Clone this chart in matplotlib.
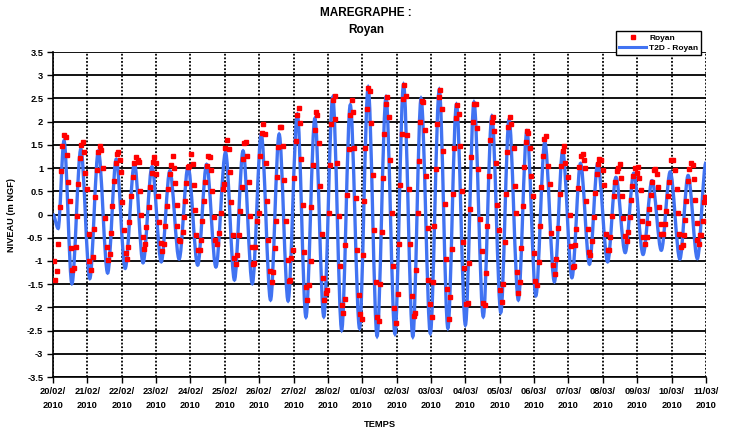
import numpy as np
import matplotlib.pyplot as plt
from matplotlib.path import Path
from matplotlib.patches import PathPatch
from matplotlib.lines import Line2D

plt.rcParams['font.family'] = ['Liberation Sans', 'DejaVu Sans']
plt.rcParams['font.weight'] = 'bold'

BLUE = '#4173F2'

# dates (days since 20/02/2010 00:00)
DATES = ['20/02/', '21/02/', '22/02/', '23/02/', '24/02/', '25/02/', '26/02/',
         '27/02/', '28/02/', '01/03/', '02/03/', '03/03/', '04/03/', '05/03/',
         '06/03/', '07/03/', '08/03/', '09/03/', '10/03/', '11/03/']

# T2D model: turning points (high / low waters)
model_day = [0.00, 0.15, 0.32, 0.55, 0.81, 1.07, 1.32, 1.59, 1.84, 2.10, 2.37, 2.62,
             2.88, 3.15, 3.40, 3.67, 3.93, 4.21, 4.47, 4.74, 5.02, 5.28, 5.53, 5.80,
             6.06, 6.33, 6.58, 6.84, 7.11, 7.36, 7.62, 7.88, 8.14, 8.40, 8.65, 8.92,
             9.17, 9.43, 9.69, 9.95, 10.20, 10.47, 10.71, 10.98, 11.24, 11.49, 11.74,
             12.00, 12.25, 12.52, 12.77, 13.03, 13.27, 13.54, 13.79, 14.05, 14.31,
             14.59, 14.83, 15.10, 15.35, 15.61, 15.85, 16.14, 16.38, 16.65, 16.90,
             17.17, 17.43, 17.70, 17.96, 18.24, 18.48, 18.75, 19.00]
model_level = [0.00, -0.30, 1.59, -1.49, 1.41, -1.38, 1.37, -1.26, 1.19, -1.16, 1.10, -1.04,
               1.03, -1.02, 0.94, -0.96, 1.03, -1.09, 1.08, -1.13, 1.34, -1.41, 1.37, -1.49,
               1.73, -1.84, 1.73, -1.86, 2.16, -2.21, 2.07, -2.20, 2.53, -2.49, 2.36, -2.45,
               2.74, -2.62, 2.53, -2.57, 2.80, -2.63, 2.50, -2.56, 2.69, -2.45, 2.37,
               -2.38, 2.42, -2.20, 2.12, -2.11, 2.05, -1.84, 1.80, -1.75, 1.56,
               -1.45, 1.37, -1.36, 1.10, -1.07, 1.10, -1.02, 0.80, -0.82, 0.89,
               -0.86, 0.73, -0.77, 0.92, -0.96, 0.84, -0.95, 1.12]

# tide gauge observations (Royan)
obs_day = [
    0.02, 0.07, 0.12, 0.15, 0.19, 0.22, 0.27, 0.31, 0.37, 0.41, 0.45, 0.50, 0.51, 0.55, 0.61, 0.66,
    0.70, 0.74, 0.78, 0.82, 0.87, 0.91, 0.94, 0.99, 1.04, 1.06, 1.11, 1.15, 1.19, 1.23, 1.28, 1.32,
    1.36, 1.40, 1.46, 1.51, 1.56, 1.60, 1.65, 1.68, 1.73, 1.77, 1.83, 1.86, 1.90, 1.94, 1.98, 2.02,
    2.06, 2.11, 2.16, 2.19, 2.21, 2.28, 2.33, 2.36, 2.41, 2.46, 2.50, 2.52, 2.57, 2.62, 2.64, 2.69,
    2.72, 2.79, 2.82, 2.87, 2.91, 2.95, 2.99, 3.01, 3.06, 3.09, 3.14, 3.17, 3.23, 3.27, 3.31, 3.35,
    3.40, 3.44, 3.48, 3.51, 3.56, 3.61, 3.62, 3.67, 3.71, 3.77, 3.82, 3.84, 3.88, 3.92, 3.96, 4.02,
    4.06, 4.10, 4.14, 4.17, 4.22, 4.27, 4.32, 4.34, 4.39, 4.43, 4.47, 4.52, 4.57, 4.60, 4.64, 4.68,
    4.71, 4.76, 4.83, 4.90, 4.94, 4.97, 5.01, 5.05, 5.11, 5.15, 5.19, 5.24, 5.26, 5.32, 5.36, 5.42,
    5.45, 5.49, 5.53, 5.57, 5.61, 5.65, 5.69, 5.73, 5.78, 5.83, 5.86, 5.89, 5.94, 5.99, 6.02, 6.07,
    6.11, 6.16, 6.20, 6.23, 6.26, 6.31, 6.36, 6.41, 6.45, 6.49, 6.52, 6.56, 6.60, 6.64, 6.69, 6.73,
    6.78, 6.83, 6.86, 6.89, 6.93, 6.97, 7.02, 7.06, 7.11, 7.16, 7.20, 7.22, 7.28, 7.30, 7.36, 7.40,
    7.44, 7.50, 7.52, 7.56, 7.61, 7.64, 7.69, 7.73, 7.77, 7.82, 7.85, 7.90, 7.94, 7.98, 8.02, 8.06,
    8.10, 8.16, 8.20, 8.22, 8.27, 8.31, 8.35, 8.40, 8.45, 8.49, 8.51, 8.56, 8.60, 8.64, 8.69, 8.73,
    8.77, 8.81, 8.85, 8.89, 8.93, 8.98, 9.03, 9.05, 9.09, 9.14, 9.18, 9.23, 9.26, 9.31, 9.35, 9.39,
    9.44, 9.49, 9.52, 9.56, 9.60, 9.64, 9.68, 9.73, 9.77, 9.82, 9.85, 9.88, 9.93, 9.98, 10.03, 10.08,
    10.11, 10.15, 10.18, 10.22, 10.26, 10.31, 10.36, 10.40, 10.44, 10.49, 10.52, 10.57, 10.61, 10.65,
    10.69, 10.74, 10.78, 10.82, 10.85, 10.90, 10.92, 10.97, 11.02, 11.06, 11.10, 11.15, 11.18, 11.22,
    11.26, 11.31, 11.36, 11.40, 11.44, 11.47, 11.51, 11.56, 11.60, 11.63, 11.68, 11.72, 11.76, 11.80,
    11.84, 11.89, 11.93, 11.97, 12.03, 12.07, 12.10, 12.13, 12.17, 12.21, 12.25, 12.30, 12.34, 12.38,
    12.43, 12.48, 12.51, 12.56, 12.60, 12.63, 12.68, 12.72, 12.76, 12.81, 12.84, 12.89, 12.92, 12.97,
    13.01, 13.06, 13.10, 13.14, 13.17, 13.21, 13.25, 13.30, 13.34, 13.40, 13.43, 13.47, 13.50, 13.54,
    13.58, 13.62, 13.67, 13.71, 13.75, 13.79, 13.83, 13.88, 13.92, 13.97, 13.99, 14.03, 14.08, 14.13,
    14.17, 14.21, 14.25, 14.29, 14.34, 14.40, 14.46, 14.50, 14.56, 14.61, 14.65, 14.69, 14.74, 14.79,
    14.83, 14.86, 14.90, 14.98, 15.03, 15.07, 15.12, 15.17, 15.19, 15.22, 15.27, 15.32, 15.37, 15.41,
    15.45, 15.49, 15.52, 15.56, 15.60, 15.63, 15.68, 15.73, 15.78, 15.82, 15.85, 15.90, 15.95, 15.99,
    16.03, 16.09, 16.14, 16.19, 16.21, 16.27, 16.32, 16.36, 16.41, 16.45, 16.49, 16.52, 16.56, 16.60,
    16.65, 16.69, 16.73, 16.78, 16.81, 16.84, 16.89, 16.93, 16.98, 17.02, 17.05, 17.10, 17.14, 17.17,
    17.22, 17.27, 17.31, 17.35, 17.40, 17.44, 17.49, 17.53, 17.57, 17.60, 17.64, 17.68, 17.69, 17.74,
    17.82, 17.85, 17.89, 17.93, 17.98, 18.03, 18.11, 18.16, 18.20, 18.22, 18.26, 18.32, 18.35, 18.40,
    18.43, 18.47, 18.51, 18.56, 18.61, 18.65, 18.69, 18.73, 18.75, 18.79, 18.83, 18.86, 18.90, 18.93,
    18.98]
obs_level = [
    -1.01, -1.40, -1.21, -0.63, 0.16, 0.94, 1.48, 1.71, 1.66, 1.29, 0.71, 0.30, -0.72, -1.20, -1.15, -0.70,
    -0.04, 0.66, 1.21, 1.50, 1.56, 1.34, 0.90, 0.54, -0.41, -1.01, -1.20, -0.91, -0.32, 0.37, 0.96, 1.35,
    1.47, 1.39, 1.01, -0.08, -0.70, -0.99, -0.84, -0.39, 0.19, 0.73, 1.10, 1.31, 1.35, 1.17, 0.92, 0.26,
    -0.34, -0.83, -0.95, -0.69, -0.16, 0.39, 0.81, 1.12, 1.23, 1.17, 1.14, 0.51, -0.02, -0.49, -0.74, -0.63,
    -0.27, 0.16, 0.59, 0.89, 1.14, 1.23, 1.12, 0.87, 0.40, -0.16, -0.61, -0.79, -0.64, -0.25, 0.18, 0.55,
    0.87, 1.07, 1.26, 1.00, 0.67, 0.21, -0.24, -0.54, -0.58, -0.38, -0.06, 0.30, 0.67, 1.03, 1.05, 1.30,
    1.09, 0.64, 0.09, -0.45, -0.77, -0.76, -0.54, -0.15, 0.30, 0.69, 1.05, 1.25, 1.23, 0.96, 0.50, -0.06,
    -0.54, -0.64, -0.40, 0.04, 0.54, 0.66, 1.44, 1.60, 1.41, 0.92, 0.26, -0.44, -0.94, -1.07, -0.88, -0.44,
    0.07, 0.59, 1.19, 1.54, 1.57, 1.26, 0.71, -0.03, -0.70, -1.06, -1.04, -0.70, -0.13, 0.03, 1.26, 1.76,
    1.96, 1.73, 1.12, 0.30, -0.54, -1.21, -1.45, -1.24, -0.72, -0.14, 0.80, 1.46, 1.89, 1.89, 1.48, 0.75,
    -0.15, -0.99, -1.44, -1.41, -0.93, -0.77, 0.78, 1.59, 2.14, 2.30, 1.98, 1.19, 0.20, -0.81, -1.57, -1.84,
    -1.52, -1.00, 0.16, 1.07, 1.81, 2.21, 2.14, 1.54, 0.62, -0.41, -1.36, -1.84, -1.70, -1.63, 0.03, 1.07,
    1.96, 2.46, 2.55, 2.05, 1.10, -0.04, -1.11, -1.94, -2.13, -1.82, -0.66, 0.43, 1.42, 2.14, 2.46, 2.21,
    1.43, 0.36, -0.77, -1.74, -2.15, -2.25, -0.88, 0.29, 1.43, 2.28, 2.73, 2.66, 1.98, 0.86, -0.33, -1.45,
    -2.20, -2.29, -1.50, -0.38, 0.79, 1.74, 2.37, 2.54, 2.11, 1.17, 0.04, -1.11, -2.02, -2.34, -1.72, -0.64,
    0.64, 1.73, 2.48, 2.80, 2.55, 1.71, 0.56, -0.64, -1.75, -2.19, -2.13, -1.20, 0.03, 1.16,
    1.99, 2.44, 2.43, 1.83, 0.84, -0.29, -1.41, -1.93, -2.20, -1.45, -0.25, 0.99, 1.96, 2.53,
    2.68, 2.28, 1.37, 0.23, -0.95, -1.61, -2.26, -1.77, -0.74, 0.44, 1.44, 2.07, 2.35, 2.16,
    1.48, 0.50, -0.59, -1.16, -1.93, -1.91, -1.04, 0.12, 1.23, 2.00, 2.39, 2.37, 1.87, 0.98,
    -0.09, -0.79, -1.91, -1.94, -1.26, -0.24, 0.82, 1.60, 2.00, 2.10, 1.80, 1.12, 0.21, -0.33,
    -1.63, -1.89, -1.49, -0.60, 0.44, 1.34, 1.89, 2.10, 1.96, 1.43, 0.62, 0.04, -1.23, -1.69,
    -1.45, -0.72, 0.19, 1.03, 1.56, 1.80, 1.76, 1.43, 0.82, 0.39, -0.83, -1.43, -1.52, -1.02,
    -0.24, 0.60, 1.25, 1.62, 1.69, 1.05, 0.66, -0.40, -1.09, -1.29, -0.96, -0.29, 0.44, 1.05,
    1.37, 1.48, 1.12, 0.81, 0.00, -0.68, -1.13, -1.10, -0.66, -0.31, 0.57, 1.03, 1.26, 1.30,
    1.17, 1.01, 0.30, -0.32, -0.81, -0.88, -0.56, -0.06, 0.46, 0.87, 1.09, 1.19, 1.17, 0.96,
    0.64, -0.41, -0.76, -0.76, -0.49, -0.04, 0.39, 0.71, 0.93, 1.01, 1.09, 0.78, 0.39, -0.08,
    -0.46, -0.57, -0.38, -0.06, 0.31, 0.62, 0.84, 1.00, 0.89, 1.03, 0.79, 0.53, -0.13, -0.49,
    -0.63, -0.49, -0.19, 0.12, 0.43, 0.69, 0.96, 0.98, 0.87, 0.59, 0.17, -0.20, -0.43, -0.41,
    -0.20, 0.07, 0.39, 0.69, 1.17, 1.17, 0.96, 0.55, 0.04, -0.41, -0.69, -0.65, -0.44, -0.11,
    0.30, 0.73, 0.98, 1.12, 1.07, 0.76, 0.31, -0.19, -0.54, -0.63, -0.45, -0.45, -0.13, 0.26,
    0.37]

fig = plt.figure(figsize=(7.29, 4.32), dpi=100)
ax = fig.add_axes([0.0727, 0.1273, 0.8957, 0.7523])

# model curve drawn as a smoothed line (bezier through the turning points)
verts = [(model_day[0], model_level[0])]
codes = [Path.MOVETO]
for i in range(1, len(model_day)):
    t0, v0 = model_day[i - 1], model_level[i - 1]
    t1, v1 = model_day[i], model_level[i]
    dt = t1 - t0
    verts += [(t0 + dt / 3, v0), (t1 - dt / 3, v1), (t1, v1)]
    codes += [Path.CURVE4] * 3
ax.add_patch(PathPatch(Path(verts, codes), fill=False, edgecolor=BLUE, lw=2.4, zorder=3))

ax.plot(obs_day, obs_level, 's', color='red', ms=3.0, mec='red', ls='none', zorder=4)

ax.set_xlim(0, 19)
ax.set_ylim(-3.5, 3.5)
ax.set_xticks(range(len(DATES)))
ax.set_xticklabels([d + '\n2010' for d in DATES], fontsize=6.7, fontweight='bold', linespacing=1.8)
yt = np.arange(-3.5, 3.51, 0.5)
ax.set_yticks(yt)
ax.set_yticklabels([f'{v:g}' for v in yt], fontsize=6.7, fontweight='bold')
ax.tick_params(axis='both', direction='out', length=4, width=1, color='black', pad=3)

ax.grid(axis='y', color='black', lw=1.3, ls='-', zorder=1)
ax.grid(axis='x', color='black', lw=1.3, ls=(0, (1, 1)), zorder=1)
ax.set_axisbelow(True)
for s in ['top', 'right']:
    ax.spines[s].set_visible(False)
ax.spines['left'].set_linewidth(1.2)
ax.spines['bottom'].set_linewidth(1.2)

ax.set_xlabel('TEMPS', fontsize=6.7, fontweight='bold', labelpad=7)
ax.set_ylabel('NIVEAU (m NGF)', fontsize=6.7, fontweight='bold', labelpad=8)

fig.text(0.502, 0.95, 'MAREGRAPHE :\nRoyan', ha='center', va='center', fontsize=8.5,
         fontweight='bold', linespacing=1.6)

handles = [Line2D([], [], marker='s', color='red', ls='none', ms=3.0),
           Line2D([], [], color=BLUE, lw=2.2)]
leg = fig.legend(handles, ['Royan', 'T2D - Royan'], loc='upper right',
                 bbox_to_anchor=(0.962, 0.928), fontsize=6, frameon=True, fancybox=False,
                 edgecolor='black', framealpha=1, handlelength=3.2, borderpad=0.35,
                 labelspacing=0.25, handletextpad=0.4, borderaxespad=0)
leg.get_frame().set_linewidth(1.0)

fig.savefig('out.png', dpi=100)
